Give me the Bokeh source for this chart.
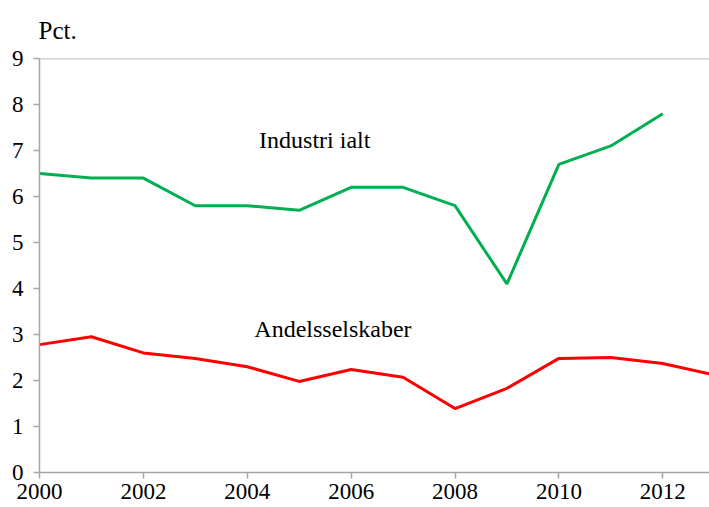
from bokeh.plotting import figure
from bokeh.models import Range1d, Span, Label, FixedTicker
from bokeh.embed import file_html
from bokeh.resources import INLINE

years_ind = [2000, 2001, 2002, 2003, 2004, 2005, 2006, 2007, 2008, 2009, 2010, 2011, 2012]
industri = [6.5, 6.4, 6.4, 5.8, 5.8, 5.7, 6.2, 6.2, 5.8, 4.1, 6.7, 7.1, 7.8]
years_and = [2000, 2001, 2002, 2003, 2004, 2005, 2006, 2007, 2008, 2009, 2010, 2011, 2012, 2013]
andels = [2.78, 2.95, 2.6, 2.48, 2.3, 1.98, 2.24, 2.07, 1.39, 1.83, 2.48, 2.5, 2.37, 2.12]
x_ticks = [2000, 2002, 2004, 2006, 2008, 2010, 2012]
y_ticks = list(range(0, 10))

FONT = "Liberation Serif"
AX = "#A6A6A6"

p = figure(width=709, height=505, output_backend="svg", toolbar_location=None,
           x_range=Range1d(2000, 2012.9), y_range=Range1d(0, 9),
           min_border_left=39, min_border_right=0, min_border_top=58, min_border_bottom=33,
           title="Pct.")
p.title.text_font = FONT
p.title.text_font_size = "25px"
p.title.text_font_style = "normal"
p.title.text_color = "black"
p.title.align = "left"
p.title.offset = -1
p.title.standoff = 29
p.outline_line_color = None
p.grid.visible = False
p.background_fill_color = "white"

for ax, ticks in ((p.xaxis, x_ticks), (p.yaxis, y_ticks)):
    ax.ticker = FixedTicker(ticks=ticks)
    ax.axis_line_color = AX
    ax.axis_line_width = 1.5
    ax.major_tick_line_color = AX
    ax.major_tick_line_width = 1.5
    ax.major_tick_out = 6
    ax.major_tick_in = 0
    ax.minor_tick_line_color = None
    ax.major_label_text_font = FONT
    ax.major_label_text_font_size = "23px"
    ax.major_label_text_color = "black"
p.xaxis.major_label_standoff = 5
p.yaxis.major_label_standoff = 10

p.add_layout(Span(location=9, dimension="width", line_color=AX, line_width=1.5))

p.line(years_ind, industri, line_color="#00B050", line_width=3)
p.line(years_and, andels, line_color="#FF0000", line_width=3)

p.add_layout(Label(x=2005.3, y=7.22, text="Industri ialt", text_font=FONT, text_font_size="24px",
                   text_align="center", text_baseline="middle", text_color="black"))
p.add_layout(Label(x=2005.65, y=3.12, text="Andelsselskaber", text_font=FONT, text_font_size="24px",
                   text_align="center", text_baseline="middle", text_color="black"))

open("out.html", "w").write(file_html(p, INLINE))
